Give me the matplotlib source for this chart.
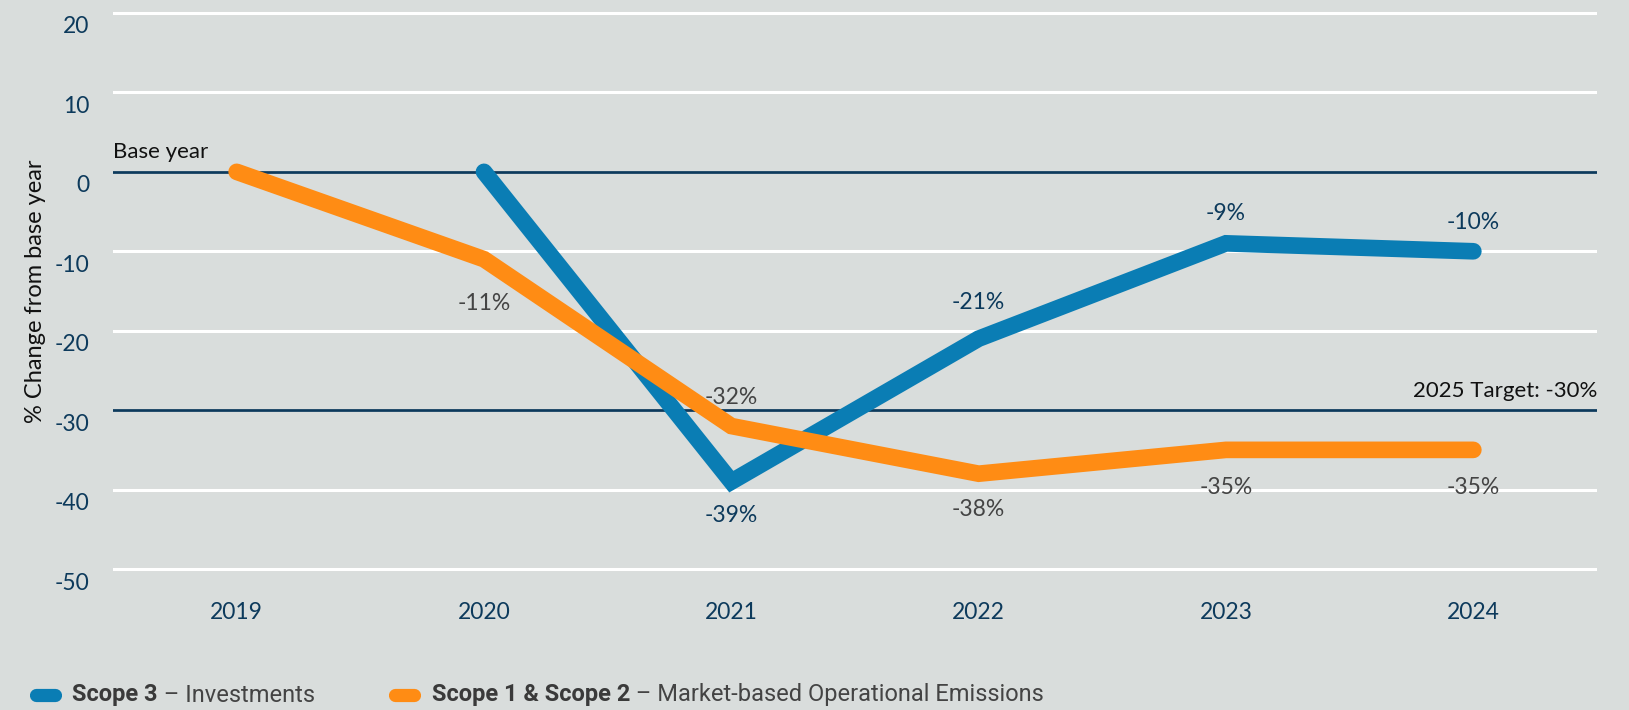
import matplotlib.pyplot as plt
from matplotlib.lines import Line2D
from matplotlib.transforms import ScaledTranslation

# Data
years = ['2019', '2020', '2021', '2022', '2023', '2024']
scope3 = [None, 0, -39, -21, -9, -10]          # Scope 3 - Investments
scope12 = [0, -11, -32, -38, -35, -35]          # Scope 1 & 2 - Market-based
scope3_labels = ['', '', '-39%', '-21%', '-9%', '-10%']
scope12_labels = ['', '-11%', '-32%', '-38%', '-35%', '-35%']
yticks = [20, 10, 0, -10, -20, -30, -40, -50]
base_value = 0
target_value = -30

bg = '#d9dddc'
navy = '#0d3a5c'
blue = '#0a7db4'
orange = '#ff8c14'
gray = '#444444'

plt.rcParams['font.family'] = ['Lato', 'DejaVu Sans']
plt.rcParams['axes.unicode_minus'] = False

fig = plt.figure(figsize=(16.29, 7.10), dpi=100, facecolor=bg)
ax = fig.add_axes([113 / 1629, 1 - 573 / 710, (1597 - 113) / 1629, (573 - 9) / 710])
ax.set_facecolor(bg)

x = list(range(len(years)))

# gridlines
ax.set_ylim(-50.5, 20.5)
ax.set_xlim(-0.5, len(years) - 0.5)
ax.set_yticks(yticks)
ax.set_xticks(x)
ax.set_xticklabels(years)
ax.grid(axis='y', color='white', linewidth=2.2)
ax.grid(axis='x', visible=False)
ax.set_axisbelow(True)
for s in ax.spines.values():
    s.set_visible(False)
ax.tick_params(length=0)
ax.tick_params(axis='y', pad=17, labelsize=16.5, labelcolor=navy)
ax.tick_params(axis='x', pad=21, labelsize=16.5, labelcolor=navy)
for lab in ax.get_yticklabels():
    lab.set_transform(lab.get_transform() + ScaledTranslation(0, -0.12, fig.dpi_scale_trans))

# base year and target lines
ax.axhline(base_value, color=navy, linewidth=2, zorder=1)
ax.axhline(target_value, color=navy, linewidth=2, zorder=1)
ax.text(-0.5, base_value + 1.2, 'Base year', fontsize=16, color='#111111', va='bottom', ha='left')
ax.text(len(years) - 0.5, target_value + 1.2, '2025 Target: -30%', fontsize=16,
        color='#111111', va='bottom', ha='right')

# series
s3x = [i for i, v in zip(x, scope3) if v is not None]
s3y = [v for v in scope3 if v is not None]
ax.plot(x, scope12, color=orange, linewidth=12, solid_capstyle='round', solid_joinstyle='miter', zorder=3)
ax.plot(s3x, s3y, color=blue, linewidth=12, solid_capstyle='round', solid_joinstyle='miter', zorder=2)

# data labels (offset in pixels, positive = below)
s12_off = [0, 44, -29, 36, 38, 38]
s3_off = [0, 0, 34, -36, -30, -29]
for i in x:
    if scope12_labels[i]:
        ax.annotate(scope12_labels[i], (i, scope12[i]), xytext=(0, -s12_off[i] * 0.72),
                    textcoords='offset points', ha='center', va='center', fontsize=16.5, color=gray)
    if scope3_labels[i]:
        ax.annotate(scope3_labels[i], (i, scope3[i]), xytext=(0, -s3_off[i] * 0.72),
                    textcoords='offset points', ha='center', va='center', fontsize=16.5, color=navy)

ax.set_ylabel('% Change from base year', fontsize=17, color='#111111')
ax.yaxis.set_label_coords(-(113 - 46) / (1597 - 113), 0.5)

# legend
ly = 1 - 695 / 710
fam = ['Roboto', 'DejaVu Sans']
fig.add_artist(Line2D([36 / 1629, 55 / 1629], [ly, ly], transform=fig.transFigure,
                      color=blue, linewidth=9.5, solid_capstyle='round'))
fig.add_artist(Line2D([395 / 1629, 414 / 1629], [ly, ly], transform=fig.transFigure,
                      color=orange, linewidth=9.5, solid_capstyle='round'))
t1 = fig.text(72 / 1629, ly, 'Scope 3', fontsize=17, fontweight='bold', color='#3a3a3a',
              va='center', ha='left', family=fam)
ax.annotate(' \u2013 Investments', xy=(1, 0.5), xycoords=t1, va='center', ha='left',
            fontsize=17, color=gray, family=fam, annotation_clip=False)
t2 = fig.text(432 / 1629, ly, 'Scope 1 & Scope 2', fontsize=17, fontweight='bold', color='#3a3a3a',
              va='center', ha='left', family=fam)
ax.annotate(' \u2013 Market-based Operational Emissions', xy=(1, 0.5), xycoords=t2, va='center',
            ha='left', fontsize=17, color=gray, family=fam, annotation_clip=False)

fig.savefig('out.png', dpi=100, facecolor=bg)
